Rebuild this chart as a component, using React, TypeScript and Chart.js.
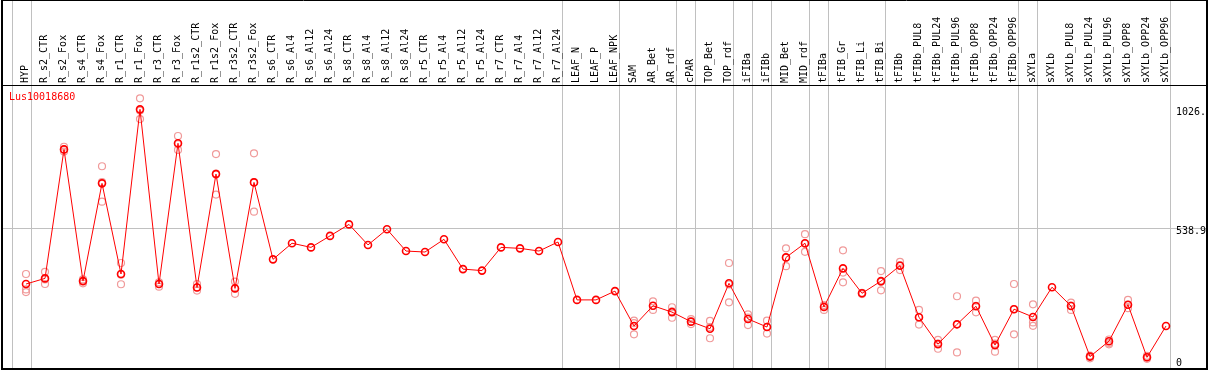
import React, { useEffect, useRef } from "react";
import { Chart, registerables } from "chart.js";

Chart.register(...registerables);

const GENE = "Lus10018680";

const LABELS = [
  "HYP", "R_s2_CTR", "R_s2_Fox", "R_s4_CTR", "R_s4_Fox", "R_r1_CTR", "R_r1_Fox",
  "R_r3_CTR", "R_r3_Fox", "R_r1s2_CTR", "R_r1s2_Fox", "R_r3s2_CTR", "R_r3s2_Fox",
  "R_s6_CTR", "R_s6_Al4", "R_s6_Al12", "R_s6_Al24", "R_s8_CTR", "R_s8_Al4", "R_s8_Al12",
  "R_s8_Al24", "R_r5_CTR", "R_r5_Al4", "R_r5_Al12", "R_r5_Al24", "R_r7_CTR", "R_r7_Al4",
  "R_r7_Al12", "R_r7_Al24", "LEAF_N", "LEAF_P", "LEAF_NPK", "SAM", "AR_Bet", "AR_rdf",
  "cPAR", "TOP_Bet", "TOP_rdf", "iFIBa", "iFIBb", "MID_Bet", "MID_rdf", "tFIBa",
  "tFIB_Gr", "tFIB_Li", "tFIB_Bi", "tFIBb", "tFIBb_PUL8", "tFIBb_PUL24", "tFIBb_PUL96",
  "tFIBb_OPP8", "tFIBb_OPP24", "tFIBb_OPP96", "sXYLa", "sXYLb", "sXYLb_PUL8",
  "sXYLb_PUL24", "sXYLb_PUL96", "sXYLb_OPP8", "sXYLb_OPP24", "sXYLb_OPP96",
];

const MEANS = [
  311, 334, 862, 323, 723, 352, 1026, 311, 887, 297, 761, 293, 727,
  412, 478, 461, 508, 555, 471, 535, 446, 442, 494, 372, 366, 461, 457, 446, 483,
  246, 246, 282, 139, 222, 196, 157, 128, 314, 168, 135, 420, 478, 217, 375, 273,
  323, 386, 175, 65, 146, 220, 61, 208, 176, 298, 221, 14, 77, 226, 11, 139,
];

const REPLICATES: number[][] = [
  [352, 289, 278], [361, 330, 311], [873, 862, 853], [330, 323, 314],
  [793, 728, 648], [397, 349, 310], [1071, 1021, 986], [318, 311, 300],
  [917, 884, 860], [311, 297, 284], [843, 763, 677], [321, 293, 271],
  [846, 728, 607],
  [], [], [], [], [], [], [], [], [], [], [], [], [], [], [], [], [], [], [],
  [161, 151, 105], [240, 221, 205], [216, 199, 173], [167, 157, 147],
  [160, 135, 89], [397, 309, 236], [187, 174, 143], [161, 136, 108],
  [457, 419, 384], [515, 476, 443], [225, 221, 205], [449, 358, 318],
  [275, 273, 270], [364, 320, 285], [402, 388, 368], [205, 175, 145],
  [82, 67, 46], [261, 146, 31], [243, 222, 195], [82, 67, 34],
  [311, 208, 105], [228, 154, 140], [], [235, 223, 205], [18, 14, 7],
  [84, 70, 64], [246, 226, 212], [17, 11, 5], [],
];

// group separators: placed just after these category indices
const GROUP_ENDS = [-1, 0, 28, 31, 34, 35, 37, 38, 39, 41, 42, 45, 52, 53, 60];

const Y_TICKS = [0, 538.9, 1026];
const Y_TICK_LABELS = ["0", "538.9", "1026."];
const HEADER_VALUE = 1125.66;

const X_MIN = -1.2632;
const X_MAX = 62.158;
const Y_MIN = -36.84;
const Y_MAX = 1473.6;
const SEP_OFFSET = 5 / 19;

const FONT = "'DejaVu Sans Mono', monospace";

const zeroFit = (horizontal: boolean) => (s: any) => {
  if (horizontal) s.height = 0;
  else s.width = 0;
  s.paddingLeft = 0;
  s.paddingRight = 0;
  s.paddingTop = 0;
  s.paddingBottom = 0;
};

const titlePlugin = {
  id: "geneTitle",
  afterDraw(chart: any) {
    const ctx = chart.ctx;
    ctx.save();
    ctx.font = `10px ${FONT}`;
    ctx.fillStyle = "#ff0000";
    ctx.textBaseline = "middle";
    ctx.textAlign = "left";
    ctx.fillText(GENE, chart.chartArea.left + 7, 97);
    ctx.restore();
  },
};

export default function App() {
  const ref = useRef<HTMLCanvasElement | null>(null);

  useEffect(() => {
    if (!ref.current) return;
    const meanData = MEANS.map((v, i) => ({ x: i, y: v }));
    const repData: { x: number; y: number }[] = [];
    REPLICATES.forEach((reps, i) => reps.forEach((v) => repData.push({ x: i, y: v })));

    const chart = new Chart(ref.current, {
      type: "line",
      data: {
        datasets: [
          {
            label: GENE,
            data: meanData,
            borderColor: "#ff0000",
            borderWidth: 1,
            pointRadius: 3.5,
            pointBorderWidth: 1.6,
            pointBorderColor: "#ff0000",
            pointBackgroundColor: "rgba(0,0,0,0)",
            tension: 0,
            xAxisID: "x",
            yAxisID: "y",
          },
          {
            label: "replicates",
            data: repData,
            showLine: false,
            pointRadius: 3.5,
            pointBorderWidth: 1.2,
            pointBorderColor: "#f09a9a",
            pointBackgroundColor: "rgba(0,0,0,0)",
            xAxisID: "x",
            yAxisID: "y",
          },
        ],
      },
      options: {
        responsive: false,
        devicePixelRatio: 1,
        animation: false,
        layout: { autoPadding: false, padding: { left: 2, right: 2, top: 0, bottom: 1 } },
        plugins: {
          legend: { display: false },
          tooltip: { enabled: false },
          title: { display: false },
        },
        scales: {
          x: {
            type: "linear",
            position: "top",
            min: X_MIN,
            max: X_MAX,
            afterBuildTicks: (s: any) => {
              s.ticks = LABELS.map((_, i) => ({ value: i }));
            },
            afterFit: zeroFit(true),
            grid: { display: false },
            border: { display: true, color: "#000", width: 1 },
            ticks: {
              autoSkip: false,
              minRotation: 90,
              maxRotation: 90,
              mirror: true,
              padding: 83,
              labelOffset: -1,
              color: "#000",
              font: { family: FONT, size: 10 },
              callback: (v: any) => LABELS[v as number] ?? "",
            },
          },
          xg: {
            type: "linear",
            position: "bottom",
            min: X_MIN,
            max: X_MAX,
            afterBuildTicks: (s: any) => {
              s.ticks = GROUP_ENDS.map((i) => ({ value: i + SEP_OFFSET }));
            },
            afterFit: zeroFit(true),
            grid: { display: true, color: "#c0c0c0", lineWidth: 1, drawTicks: false },
            border: { display: true, color: "#000", width: 2 },
            ticks: { display: false },
          },
          y: {
            type: "linear",
            position: "right",
            min: Y_MIN,
            max: Y_MAX,
            afterBuildTicks: (s: any) => {
              s.ticks = [...Y_TICKS, HEADER_VALUE].map((v) => ({ value: v }));
            },
            afterFit: zeroFit(false),
            grid: {
              display: true,
              drawTicks: false,
              lineWidth: 1,
              color: (c: any) => {
                const v = c.tick ? c.tick.value : null;
                if (v === 538.9) return "#c0c0c0";
                if (v === HEADER_VALUE) return "#000";
                return "rgba(0,0,0,0)";
              },
            },
            border: { display: true, color: "#000", width: 2 },
            ticks: {
              mirror: true,
              crossAlign: "far",
              padding: -1,
              labelOffset: 3,
              color: "#000",
              font: { family: FONT, size: 10 },
              callback: (v: any) => {
                const k = Y_TICKS.indexOf(v as number);
                return k >= 0 ? Y_TICK_LABELS[k] : "";
              },
            },
          },
          yl: {
            type: "linear",
            position: "left",
            min: Y_MIN,
            max: Y_MAX,
            afterFit: zeroFit(false),
            grid: { display: false },
            border: { display: true, color: "#000", width: 2 },
            ticks: { display: false },
          },
        },
      },
      plugins: [titlePlugin],
    } as any);

    return () => chart.destroy();
  }, []);

  return (
    <div style={{ position: "absolute", left: 0, top: 0, width: 1209, height: 370, background: "#fff" }}>
      <canvas ref={ref} width={1209} height={370} style={{ display: "block" }} />
    </div>
  );
}
